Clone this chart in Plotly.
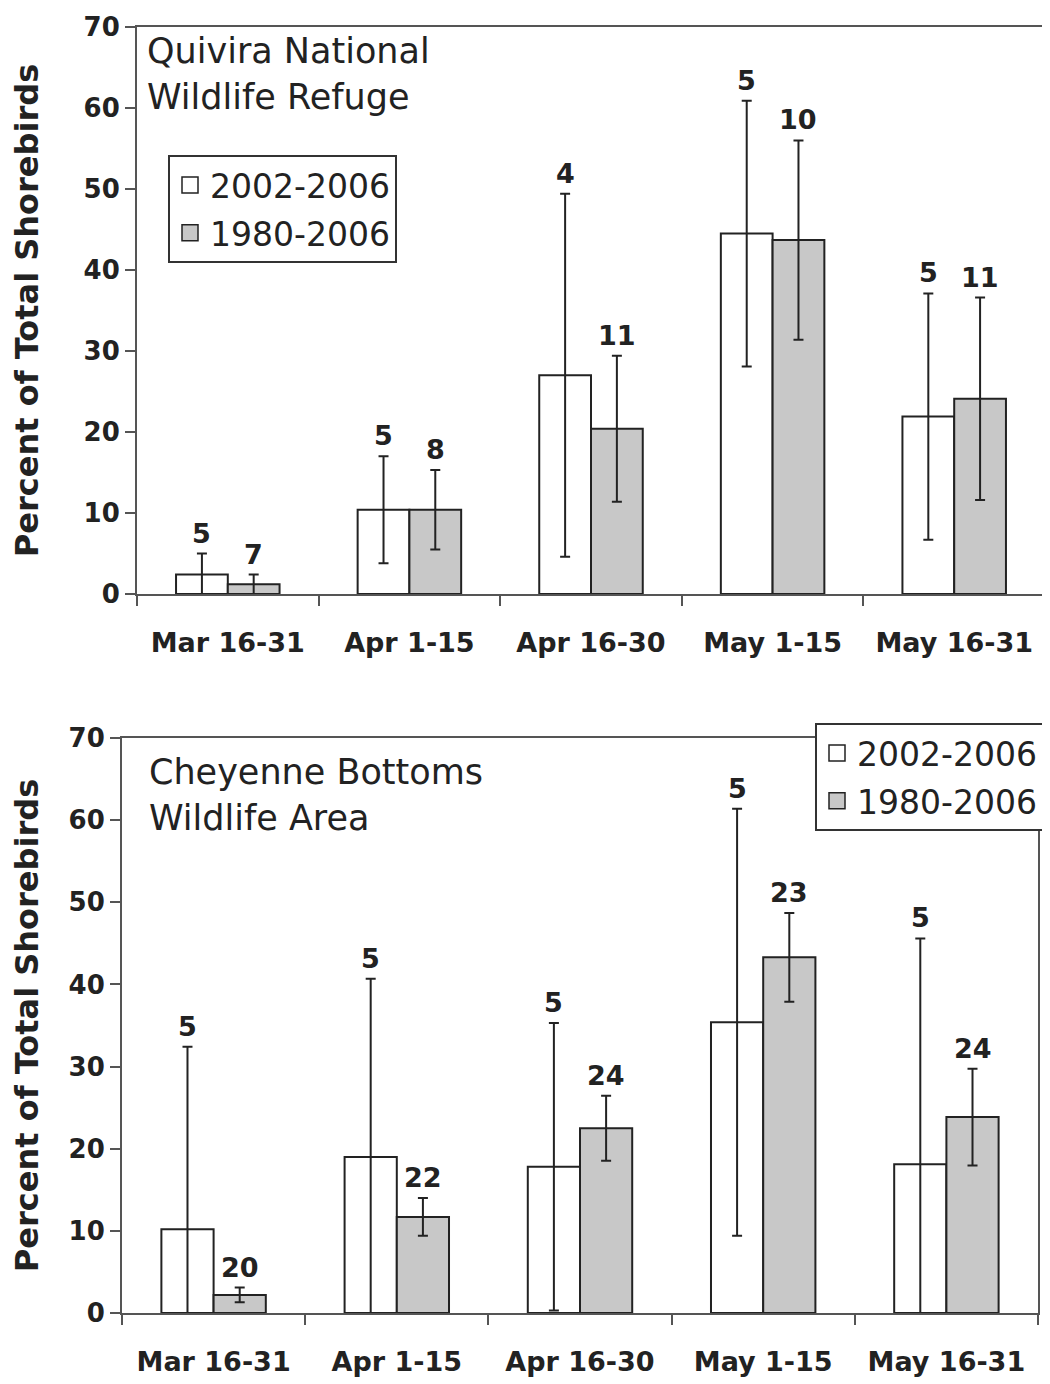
import plotly.graph_objects as go

categories = ["Mar 16-31", "Apr 1-15", "Apr 16-30", "May 1-15", "May 16-31"]
series_names = ["2002-2006", "1980-2006"]

# Quivira National Wildlife Refuge
q_recent = [2.4, 10.4, 27.0, 44.5, 21.9]
q_recent_err = [2.6, 6.6, 22.4, 16.4, 15.2]
q_recent_n = [5, 5, 4, 5, 5]
q_long = [1.2, 10.4, 20.4, 43.7, 24.1]
q_long_err = [1.2, 4.9, 9.0, 12.3, 12.5]
q_long_n = [7, 8, 11, 10, 11]

# Cheyenne Bottoms Wildlife Area
c_recent = [10.2, 19.0, 17.8, 35.4, 18.1]
c_recent_err = [22.2, 21.7, 17.5, 26.0, 27.5]
c_recent_n = [5, 5, 5, 5, 5]
c_long = [2.2, 11.7, 22.5, 43.3, 23.85]
c_long_err = [0.9, 2.3, 3.95, 5.4, 5.9]
c_long_n = [20, 22, 24, 23, 24]

panel_titles = ["Quivira National<br>Wildlife Refuge", "Cheyenne Bottoms<br>Wildlife Area"]
y_title = "Percent of Total Shorebirds"

OFF = 8  # page body margin
W, H = 1050 - OFF, 1384 - OFF
BARGAP = 0.43
FONT = "DejaVu Sans"
DARK = "#222222"
GRAY = "#c8c8c8"
fills = ["white", GRAY]


def fx(px):
    return (px - OFF) / W


def fy(py):
    return 1 - (py - OFF) / H


x1_dom = [fx(137), fx(1045)]
y1_dom = [fy(594), fy(27)]
x2_dom = [fx(122), fx(1038)]
y2_dom = [fy(1313), fy(738)]

fig = go.Figure()

panels = [
    ("x", "y", "legend", [q_recent, q_long], [q_recent_err, q_long_err], [q_recent_n, q_long_n], x1_dom),
    ("x2", "y2", "legend2", [c_recent, c_long], [c_recent_err, c_long_err], [c_recent_n, c_long_n], x2_dom),
]

annotations = []
for xa, ya, lg, vals, errs, ns, xdom in panels:
    for k in range(2):
        fig.add_trace(go.Bar(
            x=categories, y=vals[k], name=series_names[k],
            marker=dict(color=fills[k], line=dict(color=DARK, width=2)),
            error_y=dict(type="data", array=errs[k], visible=True,
                         color=DARK, thickness=2, width=5),
            xaxis=xa, yaxis=ya, showlegend=False, offsetgroup=str(k),
        ))
    # legend proxies (bigger swatches)
    for k in range(2):
        fig.add_trace(go.Scatter(
            x=[None], y=[None], mode="markers", name=series_names[k],
            marker=dict(symbol="square", size=22, color=fills[k],
                        line=dict(color=DARK, width=1.5)),
            xaxis=xa, yaxis=ya, legend=lg, legendgroup=lg + str(k),
        ))
    catw = (xdom[1] - xdom[0]) * W / len(categories)
    shift = catw * (1 - BARGAP) / 4
    for k in range(2):
        for i, c in enumerate(categories):
            annotations.append(dict(
                x=c, y=vals[k][i] + errs[k][i], xref=xa, yref=ya,
                xshift=(-shift if k == 0 else shift), yshift=3,
                yanchor="bottom", showarrow=False,
                text=str(ns[k][i]),
                font=dict(family=FONT, size=27, color=DARK, weight="bold"),
            ))

annotations.append(dict(
    x=fx(145), y=fy(29), xref="paper", yref="paper", xanchor="left", yanchor="top",
    align="left", showarrow=False, text=panel_titles[0],
    font=dict(family=FONT, size=35, color=DARK)))
annotations.append(dict(
    x=fx(147), y=fy(750), xref="paper", yref="paper", xanchor="left", yanchor="top",
    align="left", showarrow=False, text=panel_titles[1],
    font=dict(family=FONT, size=35, color=DARK)))

xaxis_common = dict(
    type="category", tickson="boundaries", ticks="outside", ticklen=10, tickwidth=2,
    tickcolor="#555", showline=True, linecolor="#555", linewidth=2, mirror=True,
    showgrid=False, ticklabelstandoff=24, automargin=False,
    tickfont=dict(family=FONT, size=27, color=DARK, weight="bold"),
)
yaxis_common = dict(
    range=[0, 70], dtick=10, ticks="outside", ticklen=10, tickwidth=2, tickcolor="#555",
    showline=True, linecolor="#555", linewidth=2, mirror=True, showgrid=False,
    zeroline=False, automargin=False, ticklabeloverflow="allow",
    tickfont=dict(family=FONT, size=26, color=DARK, weight="bold"),
)
ytitle_font = dict(family=FONT, size=32, color=DARK, weight="bold")

legend_common = dict(
    bgcolor="white", bordercolor="#333", borderwidth=2,
    font=dict(family=FONT, size=33, color=DARK),
    xanchor="left", yanchor="top", tracegroupgap=2, itemwidth=30,
)

fig.update_layout(
    template="none",
    width=W, height=H, margin=dict(l=0, r=0, t=0, b=0, pad=0),
    paper_bgcolor="white", plot_bgcolor="white",
    barmode="group", bargap=BARGAP, bargroupgap=0,
    xaxis=dict(domain=x1_dom, anchor="y", **xaxis_common),
    yaxis=dict(domain=y1_dom, anchor="x",
               title=dict(text=y_title, standoff=46, font=ytitle_font), **yaxis_common),
    xaxis2=dict(domain=x2_dom, anchor="y2", **xaxis_common),
    yaxis2=dict(domain=y2_dom, anchor="x2",
                title=dict(text=y_title, standoff=40, font=ytitle_font), **yaxis_common),
    legend=dict(x=fx(168), y=fy(155), **legend_common),
    legend2=dict(x=fx(815), y=fy(723), **legend_common),
    annotations=annotations,
    showlegend=True,
)

fig.write_html("out.html")
